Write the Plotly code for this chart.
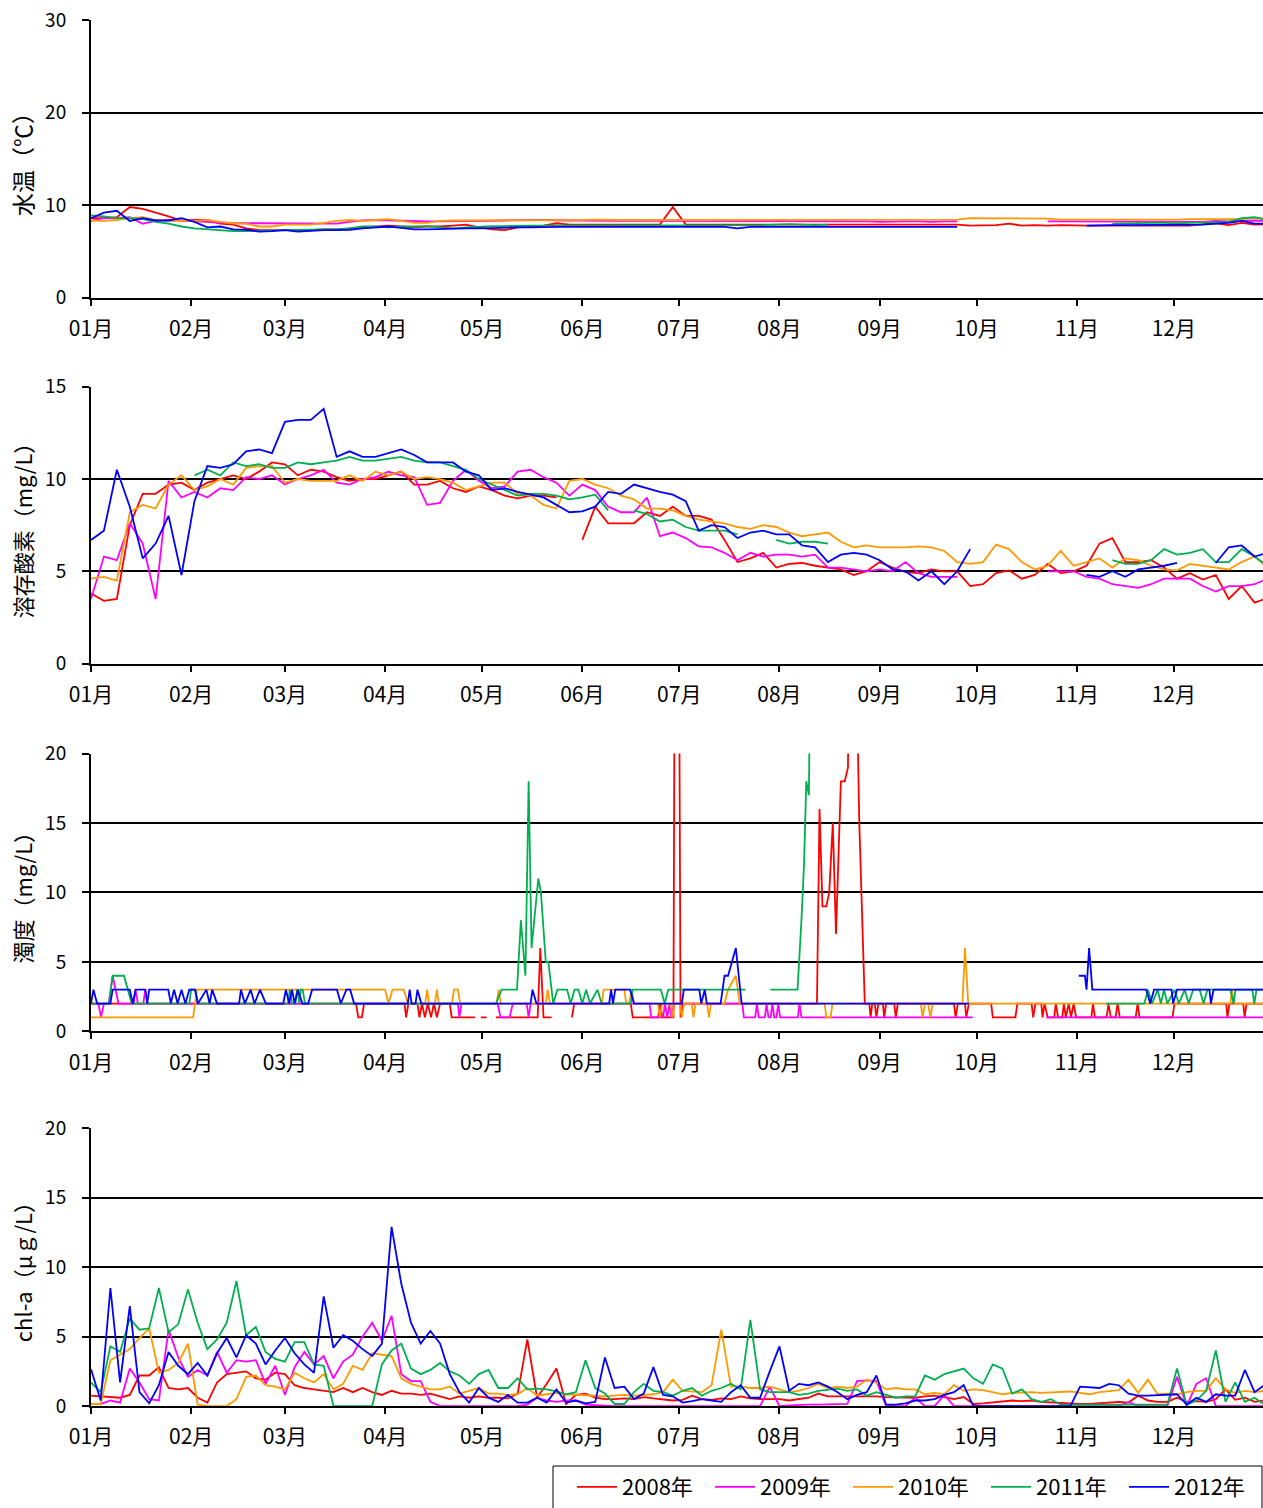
import datetime as dt
import plotly.graph_objects as go

# ---------------- data ----------------
years = ["2008年", "2009年", "2010年", "2011年", "2012年"]
colors = ["#FF0000", "#FF00FF", "#FF9900", "#00B050", "#0000FF"]

# day-of-year grids (day 0 = 1 Jan)
days4 = list(range(0, 365, 4))   # water temperature, DO
days3 = list(range(0, 364, 3))   # chl-a
N = None

temp_2008 = [8.6, 8.6, 8.7, 9.8, 9.6, 9.2, 8.8, 8.3, 8.4, 8.4,
             8.0, 7.9, 7.5, 7.3, 7.3, 7.3, 7.3, 7.3, 7.4, 7.4,
             7.5, 7.6, 7.7, 7.8, 7.7, 7.6, 7.7, 7.7, 7.8, 7.9,
             7.6, 7.4, 7.3, 7.6, 7.7, 7.8, 8.05, 7.9, 7.9, 7.9,
             7.9, 7.9, 7.9, 7.9, 7.9, 9.8, 7.9, 7.9, 7.9, 7.9,
             7.9, 7.9, 7.9, 7.9, 7.9, 7.9, 7.9, 7.95, 7.95, 7.95,
             7.95, 7.95, 7.95, 7.95, 7.95, 7.95, 7.95, 7.9, 7.8, 7.8,
             7.85, 8.0, 7.8, 7.85, 7.8, 7.85, 7.8, 7.8, 7.8, 7.8,
             7.85, 7.8, 7.8, 7.8, 7.8, 7.8, 7.95, 8.05, 7.85, 8.1,
             7.9, 7.95]
temp_2009 = [8.3, 8.6, 8.6, 8.7, 8.0, 8.3, 8.4, 8.35, 8.25, 8.2,
             8.1, 8.05, 8.05, 8.05, 8.05, 8.05, 8.0, 8.05, 8.0, 8.0,
             8.2, 8.35, 8.4, 8.35, 8.3, 8.3, 8.25, 8.25, 8.25, 8.3,
             8.3, 8.3, 8.35, 8.4, 8.4, 8.4, 8.35, 8.35, 8.35, 8.3,
             8.3, 8.3, 8.35, 8.3, 8.3, 8.25, 8.25, 8.3, 8.3, 8.25,
             8.25, 8.3, 8.3, 8.25, 8.3, 8.25, 8.25, 8.3, 8.3, 8.25,
             8.25, 8.2, 8.25, 8.25, 8.25, 8.2, 8.25, 8.25, N, N,
             N, N, N, N, 8.25, 8.25, 8.2, 8.25, 8.25, 8.2,
             8.2, 8.2, 8.2, 8.2, 8.25, 8.25, 8.2, 8.3, 8.25, 8.3,
             8.35, 8.3]
temp_2010 = [8.35, 8.3, 8.4, 8.6, 8.7, 8.4, 8.3, 8.35, 8.3, 8.4,
             8.2, 8.05, 8.0, 7.7, 7.7, 7.9, 7.9, 7.9, 8.1, 8.3,
             8.4, 8.3, 8.4, 8.5, 8.3, 8.1, 8.1, 8.3, 8.35, 8.35,
             8.35, 8.4, 8.35, 8.4, 8.4, 8.4, 8.4, 8.4, 8.4, 8.45,
             8.4, 8.4, 8.4, 8.4, 8.4, 8.4, 8.4, 8.4, 8.4, 8.45,
             8.45, 8.4, 8.45, 8.4, 8.45, 8.45, 8.45, 8.45, 8.45, 8.45,
             8.45, 8.4, 8.45, 8.45, 8.45, 8.45, 8.45, 8.45, 8.6, 8.6,
             8.6, 8.55, 8.6, 8.6, 8.55, 8.45, 8.45, 8.45, 8.45, 8.45,
             8.45, 8.45, 8.4, 8.4, 8.45, 8.5, 8.5, 8.5, 8.45, 8.5,
             8.6, 8.55]
temp_2011 = [8.9, 8.8, 8.6, 8.6, 8.5, 8.2, 8.0, 7.7, 7.5, 7.4,
             7.35, 7.2, 7.2, 7.2, 7.25, 7.3, 7.35, 7.35, 7.4, 7.4,
             7.5, 7.7, 7.7, 7.6, 7.7, 7.7, 7.75, 7.6, 7.5, 7.6,
             7.7, 7.75, 7.75, 7.8, 7.8, 7.8, 7.8, 7.8, 7.8, 7.8,
             7.8, 7.8, 7.8, 7.8, 7.8, 7.8, 7.8, 7.8, 7.8, 7.8,
             7.8, 7.8, 7.85, 7.9, 7.95, 7.9, 7.85, 7.9, N, N,
             N, N, N, N, N, N, N, N, N, N,
             N, N, N, N, N, N, N, N, N, 8.0,
             8.05, 8.1, 8.1, 8.1, 8.05, 8.1, 8.15, 8.2, 8.2, 8.6,
             8.7, 8.4]
temp_2012 = [8.6, 9.2, 9.4, 8.3, 8.6, 8.35, 8.35, 8.6, 8.2, 7.6,
             7.7, 7.4, 7.35, 7.15, 7.2, 7.3, 7.15, 7.25, 7.3, 7.3,
             7.35, 7.5, 7.6, 7.7, 7.55, 7.4, 7.4, 7.45, 7.5, 7.5,
             7.5, 7.55, 7.6, 7.6, 7.6, 7.65, 7.65, 7.65, 7.65, 7.65,
             7.65, 7.65, 7.65, 7.65, 7.65, 7.65, 7.65, 7.65, 7.65, 7.65,
             7.5, 7.65, 7.65, 7.65, 7.65, 7.65, 7.65, 7.65, 7.65, 7.65,
             7.65, 7.65, 7.65, 7.65, 7.65, 7.65, 7.65, 7.65, N, N,
             N, N, N, N, N, N, N, 7.8, 7.85, 7.85,
             7.85, 7.85, 7.85, 7.85, 7.85, 7.85, 7.9, 8.0, 8.1, 8.3,
             8.0, 8.0]

do_2008 = [3.8, 3.4, 3.5, 7.5, 9.2, 9.2, 9.7, 9.8, 9.4, 9.8,
           10.0, 10.2, 10.0, 10.4, 10.9, 10.8, 10.2, 10.5, 10.4, 10.1,
           9.9, 10.0, 10.0, 10.2, 10.4, 9.7, 9.7, 9.9, 9.5, 9.3,
           9.6, 9.4, 9.1, 8.95, 9.1, 9.1, 9.0, N, 6.7, 8.5,
           7.6, 7.6, 7.6, 8.2, 8.0, 8.5, 8.0, 8.0, 7.8, 6.7,
           5.5, 5.7, 6.0, 5.2, 5.4, 5.45, 5.3, 5.2, 5.1, 4.8,
           5.0, 5.5, 5.2, 4.95, 4.9, 5.1, 5.0, 5.0, 4.2, 4.3,
           4.9, 5.05, 4.6, 4.8, 5.4, 4.9, 5.0, 5.3, 6.5, 6.8,
           5.5, 5.5, 5.6, 5.2, 4.6, 4.9, 4.55, 4.8, 3.5, 4.2,
           3.3, 3.55]
do_2009 = [3.5, 5.8, 5.6, 7.6, 6.5, 3.5, 9.9, 9.0, 9.3, 9.0,
           9.5, 9.4, 10.1, 10.0, 10.2, 9.7, 10.0, 10.2, 10.5, 9.8,
           9.7, 10.0, 10.1, 10.4, 10.2, 10.1, 8.6, 8.7, 9.9, 10.5,
           9.9, 9.5, 9.6, 10.4, 10.5, 10.1, 9.8, 9.1, 9.7, 9.4,
           8.5, 8.2, 8.2, 9.0, 6.9, 7.1, 6.8, 6.35, 6.3, 6.0,
           5.6, 6.0, 5.8, 5.9, 5.9, 5.8, 5.9, 5.2, 5.2, 5.1,
           5.0, 5.1, 5.0, 5.5, 4.9, 4.7, 4.7, 4.7, N, N,
           N, N, N, N, 5.0, 5.0, 5.0, 4.7, 4.6, 4.3,
           4.2, 4.1, 4.3, 4.6, 4.6, 4.6, 4.2, 3.9, 4.2, 4.2,
           4.3, 4.6]
do_2010 = [4.6, 4.7, 4.5, 8.2, 8.6, 8.4, 9.7, 10.2, 9.4, 9.6,
           10.0, 9.7, 10.6, 10.7, 10.7, 9.8, 10.0, 9.9, 9.9, 9.9,
           10.2, 9.9, 10.4, 10.2, 10.4, 10.0, 10.1, 10.0, 9.8, 9.4,
           9.6, 9.8, 9.8, 9.2, 9.1, 8.6, 8.4, 9.9, 10.0, 9.7,
           9.5, 9.1, 8.9, 8.4, 8.4, 8.3, 8.0, 7.8, 7.7, 7.6,
           7.4, 7.3, 7.5, 7.4, 7.1, 6.9, 7.0, 7.1, 6.6, 6.3,
           6.4, 6.3, 6.3, 6.3, 6.35, 6.3, 6.1, 5.5, 5.4, 5.5,
           6.45, 6.2, 5.5, 5.1, 5.3, 6.1, 5.3, 5.5, 5.7, 5.2,
           5.7, 5.6, 5.3, 5.1, 5.05, 5.4, 5.3, 5.2, 5.1, 5.5,
           5.8, 5.2]
do_2011 = [N, N, N, N, N, N, N, N, 10.2, 10.5,
           10.2, 10.9, 10.7, 10.8, 10.6, 10.6, 10.9, 10.8, 10.9, 11.0,
           11.2, 11.0, 11.0, 11.1, 11.2, 11.0, 10.9, 10.9, 10.7, 10.5,
           10.0, 9.7, 9.4, 9.1, 9.2, 9.2, 9.1, 8.9, 9.0, 9.15,
           8.3, N, 8.3, 8.1, 7.7, 7.8, 7.4, 7.2, 7.2, 7.2,
           7.0, N, N, 6.7, 6.5, 6.6, 6.6, 6.5, N, N,
           N, N, N, N, N, N, N, N, N, N,
           N, N, N, N, N, N, N, N, N, 5.6,
           5.4, 5.4, 5.6, 6.2, 5.9, 6.0, 6.2, 5.5, 5.5, 6.2,
           5.8, 5.3]
do_2012 = [6.7, 7.2, 10.5, 8.5, 5.7, 6.5, 8.0, 4.8, 8.8, 10.7,
           10.6, 10.8, 11.5, 11.6, 11.4, 13.1, 13.2, 13.2, 13.8, 11.2,
           11.5, 11.2, 11.2, 11.4, 11.6, 11.3, 10.9, 10.9, 10.9, 10.4,
           10.2, 9.4, 9.5, 9.3, 9.15, 9.0, 8.6, 8.2, 8.25, 8.5,
           9.3, 9.2, 9.7, 9.5, 9.3, 9.15, 8.8, 7.2, 7.5, 7.4,
           6.8, 7.1, 7.2, 7.0, 7.0, 6.4, 6.3, 5.5, 5.9, 6.0,
           5.9, 5.6, 5.1, 5.0, 4.5, 5.0, 4.3, 5.0, 6.2, N,
           N, N, N, N, N, N, N, 4.8, 4.7, 5.0,
           4.7, 5.1, 5.2, 5.3, 5.45, N, N, 5.45, 6.3, 6.4,
           5.8, 6.0]

# turbidity: (day, value) readings
turb_2008 = [(0, 2), (82, 2), (82.7, 1), (83.8, 1), (84.5, 2), (97, 2), (97.5, 1), (98.2, 2),
             (101, 2), (101.6, 1), (102.4, 2), (103.3, 1), (104.2, 2), (105.2, 1), (106.1, 2),
             (107, 1), (108, 2), (111, 2), (111.6, 1), (118.8, 1), (118.9, N), (120.6, 1),
             (122.4, 1), (122.5, N), (125.3, 1), (138.2, 1), (139, 6), (140, 1), (142.5, 1),
             (142.6, N), (148.8, 1), (149.5, 2), (167, 2), (167.6, 1), (175.5, 1), (176, 2),
             (176.8, 1), (180.2, 1), (180.6, 30), (181.9, 30), (182.4, 1), (183.2, 2),
             (224.6, 2), (225.4, 16), (226.3, 9), (227.5, 9), (228.4, 10), (229.5, 15),
             (230.5, 7), (232, 18), (233.2, 18), (234.2, 19), (234.6, 30), (236.5, 30),
             (237.7, 15), (239.4, 2), (240.8, 2), (241.2, 1), (241.7, 2), (242.5, 2), (243, 1),
             (243.6, 2), (245, 2), (245.4, 1), (246, 2), (248.5, 2), (249, 1), (249.6, 2),
             (267, 2), (267.5, 1), (268.2, 2), (270.4, 2), (270.8, 1), (271.6, 2), (278.5, 2),
             (279, 1), (286, 1), (286.6, 2), (291, 2), (291.5, 1), (292.2, 2), (294, 2),
             (294.4, 1), (295, 2), (296, 1), (298, 1), (298.5, 2), (299.2, 1), (300.5, 1),
             (301, 2), (301.6, 1), (302.5, 2), (303.2, 1), (304, 2), (304.8, 1), (309.5, 1),
             (310, 2), (310.6, 1), (314.2, 1), (314.8, 2), (315.5, 1), (317, 1), (317.6, 2),
             (318.3, 1), (323.2, 1), (323.8, 2), (324.4, 1), (334.6, 1), (335.2, 2),
             (351.2, 2), (351.6, 1), (352.2, 2), (356.5, 2), (356.9, 1), (357.5, 2), (364, 2)]
turb_2009 = [(0, 2), (2.3, 2), (3.1, 1), (4, 2), (5.5, 2), (6.7, 4), (8.5, 2), (13.2, 2),
             (13.8, 3), (14.5, 2), (16.2, 2), (16.8, 3), (17.5, 2), (113.5, 2), (114, 1),
             (114.6, 2), (125.8, 2), (126.7, 1), (129.5, 1), (130.5, 2), (134.8, 2),
             (135.4, 1), (136, 2), (172.8, 2), (173.3, 1), (177, 1), (177.6, 2), (178.3, 1),
             (179, 2), (179.6, 1), (180.5, 2), (201.5, 2), (202, 1), (205.5, 1), (206, 2),
             (206.6, 1), (208.5, 1), (209, 2), (209.6, 1), (210.3, 1), (210.8, 2), (211.4, 1),
             (212.1, 1), (212.6, 2), (213.2, 1), (218.7, 1), (219.2, 2), (219.8, 1),
             (272.8, 1), (273, N), (295.5, 1), (364, 1)]
turb_2010 = [(0, 1), (31.6, 1), (32.8, 3), (91, 3), (92, 2), (93.3, 3), (96.8, 3), (98, 2),
             (103.4, 2), (104, 3), (104.6, 2), (106.4, 2), (107, 3), (107.6, 2), (111.7, 2),
             (112.3, 3), (113.5, 3), (114.2, 2), (125.5, 2), (126.1, 3), (126.8, 2),
             (140.7, 2), (141.3, 3), (142, 2), (158, 2), (158.6, 3), (165, 3), (165.6, 2),
             (166.5, 2), (167.2, 3), (168, 2), (175.4, 2), (176, 1), (176.7, 2), (179.3, 2),
             (179.9, 1), (180.6, 2), (182.2, 2), (182.8, 1), (183.5, 2), (185.8, 2),
             (186.4, 1), (187, 2), (190.6, 2), (191.2, 1), (191.8, 2), (196, 2), (197.1, 3),
             (199.5, 4), (200.7, 2), (227, 2), (227.5, 1), (228.8, 1), (229.4, 2),
             (256.7, 2), (257.3, 1), (258, 2), (259, 2), (259.7, 1), (260.4, 2), (269.6, 2),
             (270.4, 6), (271.4, 2), (352.5, 2), (353, 3), (353.6, 2), (364, 2)]
turb_2011 = [(0, 2), (5.5, 2), (6.7, 4), (10.2, 4), (12.6, 2), (30.4, 2), (31, 3), (32.2, 3),
             (33, 2), (61, 2), (61.5, 3), (62.2, 2), (63.2, 2), (63.8, 3), (64.5, 2),
             (64.9, 3), (65.5, 3), (66.2, 2), (125.3, 2), (127, 3), (131.8, 3), (133, 8),
             (134.4, 4), (135.4, 18), (136.3, 6), (137.5, 9), (138.4, 11), (139.2, 10),
             (140.7, 5), (141.5, 5), (143, 2), (144.3, 3), (147.3, 3), (148.4, 2),
             (149.6, 3), (150.8, 3), (152, 2), (153.2, 3), (154.4, 2), (156.7, 3), (158, 2),
             (167, 2), (167.6, 3), (176.3, 3), (177.5, 2), (178.6, 3), (202.5, 3),
             (202.6, N), (210.2, 3), (218.6, 3), (219.8, 8), (220.6, 12), (221.3, 18),
             (222.1, 17), (222.7, 30), (222.8, N), (314, 2), (325.9, 2), (327, 3),
             (328.3, 2), (330, 3), (331, 2), (332, 3), (333, 2), (335.3, 3), (336.5, 2),
             (338.4, 3), (339.6, 2), (341, 3), (343, 3), (344.2, 2), (345.4, 3), (352.5, 3),
             (353.5, 2), (354.1, 3), (359.3, 3), (359.9, 2), (360.6, 3), (364, 3)]
turb_2012 = [(0, 2), (0.75, 3), (1.9, 2), (6, 2), (6.7, 3), (12, 3), (12.9, 2), (13.8, 3),
             (16.8, 3), (17.4, 2), (18, 3), (23.9, 3), (24.7, 2), (25.7, 3), (26.8, 2),
             (28, 3), (29.2, 2), (30.4, 3), (32.2, 3), (33.1, 2), (35.7, 3), (36.7, 2),
             (37.5, 3), (39, 2), (45.8, 2), (46.4, 3), (47.6, 2), (49.4, 3), (50.6, 2),
             (52.3, 3), (54.1, 2), (59.5, 2), (60.3, 3), (61.3, 2), (62.2, 3), (63, 2),
             (64, 3), (65.4, 2), (67.2, 2), (68.4, 3), (76.1, 3), (77.3, 2), (79, 3),
             (80.2, 3), (81.4, 2), (98, 2), (98.6, 3), (99.2, 2), (100.4, 2), (101, 3),
             (102.2, 2), (136, 2), (136.6, 3), (137.8, 2), (160.3, 2), (160.9, 3),
             (161.5, 2), (162.2, 3), (166.8, 3), (168, 2), (182.8, 2), (183.4, 3),
             (188.2, 3), (188.8, 2), (189.9, 3), (190.5, 2), (194.8, 2), (196, 4),
             (197.1, 4), (199.5, 6), (201.3, 2), (271.6, 2), (271.7, N), (305.6, 4),
             (307.5, 4), (308, 3), (308.8, 6), (309.8, 3), (326.5, 3), (327.7, 2),
             (328.9, 3), (334.3, 3), (334.8, 2), (336, 3), (346, 3), (346.5, 2), (347.3, 3),
             (364, 3)]

chl_2008 = [0.75, 0.7, 0.65, 0.6, 0.8, 2.2, 2.2, 2.8, 1.3, 1.2,
            1.3, 0.6, 0.25, 1.7, 2.3, 2.4, 2.5, 2.0, 1.9, 2.4,
            2.3, 1.5, 1.3, 1.2, 1.1, 1.0, 1.3, 1.0, 1.3, 1.0,
            0.8, 1.1, 0.9, 0.9, 0.8, 0.9, 0.7, 0.5, 0.7, 0.6,
            0.7, 0.6, 0.6, 0.55, 0.9, 4.8, 0.6, 1.6, 2.7, 0.15,
            0.8, 0.9, 0.6, 0.5, 0.5, 0.55, 0.5, 0.65, 0.55, 0.5,
            0.4, 0.45, 0.75, 0.5, 0.45, 0.55, 0.5, 0.7, 0.55, 0.5,
            0.5, 0.5, 0.4, 0.5, 0.6, 0.9, 0.7, 0.7, 0.7, 0.7,
            0.75, 0.7, 0.65, 0.65, 0.6, 0.6, 0.7, 0.75, 0.65, 0.5,
            0.65, 0.15, 0.2, 0.25, 0.3, 0.4, 0.35, 0.4, 0.3, 0.25,
            0.2, 0.15, 0.15, 0.15, 0.2, 0.25, 0.3, 0.25, 0.75, 0.4,
            0.3, 0.3, 0.6, 0.3, 0.35, 0.3, 0.5, 1.2, 0.45, 0.6,
            0.3, 0.4]
chl_2009 = [0.15, 0.15, 0.4, 0.25, 2.7, 1.7, 0.5, 0.4, 5.5, 3.5,
            2.1, 2.6, 2.2, 3.9, 2.4, 3.3, 3.2, 3.3, 1.6, 2.9,
            0.8, 2.8, 3.9, 3.0, 3.6, 2.0, 3.2, 3.7, 5.0, 6.0,
            4.7, 6.5, 2.3, 1.8, 1.8, 0.3, 0.0, 0.0, 0.0, 0.0,
            0.0, 0.0, 0.0, 0.05, 0.0, 0.1, 0.6, 0.4, 0.3, 0.4,
            0.4, 0.1, 0.05, 0.0, 0.0, 0.0, 0.0, 0.0, 0.0, 0.0,
            0.0, 0.0, 0.0, 0.0, 0.0, 0.0, 0.0, 0.0, 0.0, 0.0,
            1.4, 0.0, 0.05, 0.1, 0.1, 0.1, 0.1, 0.15, 0.15, 1.8,
            1.85, 1.8, 0.0, 0.0, 0.0, 0.6, 0.0, 0.0, 0.8, 0.0,
            0.0, 0.0, 0.0, 0.0, 0.0, 0.0, 0.0, 0.0, 0.0, 0.0,
            0.0, 0.0, 0.0, 0.0, 0.0, 0.0, 0.0, 0.3, 0.0, 0.0,
            0.0, 0.0, 2.1, 0.0, 1.6, 2.0, 0.0, 0.0, 0.0, 0.0,
            0.0, 0.0]
chl_2010 = [0.15, 0.15, 3.3, 3.7, 4.1, 4.9, 5.6, 2.4, 2.6, 3.1,
            4.5, 0.1, 0.0, 0.0, 0.0, 0.5, 2.1, 2.2, 1.5, 1.4,
            1.2, 2.4, 2.0, 1.7, 2.3, 1.2, 1.6, 2.9, 2.6, 3.8,
            3.7, 3.6, 2.0, 1.6, 1.4, 1.2, 1.2, 1.4, 0.9, 1.1,
            1.3, 0.9, 0.9, 0.8, 0.85, 1.3, 0.75, 0.85, 0.95, 0.85,
            0.8, 0.8, 0.75, 0.7, 0.75, 0.8, 0.75, 0.8, 0.85, 1.0,
            1.9, 1.1, 1.05, 1.0, 1.5, 5.5, 1.4, 1.4, 1.3, 1.3,
            1.4, 1.2, 1.0, 1.1, 1.3, 1.6, 1.3, 1.4, 1.3, 1.4,
            1.9, 1.7, 1.2, 1.3, 1.2, 1.2, 0.85, 0.95, 0.85, 1.5,
            1.1, 1.2, 1.15, 1.0, 0.85, 0.95, 1.0, 1.0, 0.95, 1.0,
            1.0, 1.05, 0.95, 0.85, 1.0, 1.1, 1.15, 1.9, 0.95, 1.9,
            0.85, 0.9, 0.85, 1.0, 1.1, 1.1, 2.0, 1.2, 0.95, 1.1,
            1.0, 1.1]
chl_2011 = [1.7, 1.0, 4.3, 3.9, 6.3, 5.5, 5.6, 8.5, 5.3, 5.9,
            8.4, 6.0, 4.1, 4.8, 6.0, 9.0, 5.1, 5.7, 3.9, 3.4,
            3.2, 4.6, 4.6, 3.0, 2.9, 0.0, 0.0, 0.0, 0.0, 0.0,
            3.0, 4.0, 4.5, 2.7, 2.3, 2.6, 3.1, 2.5, 2.2, 1.6,
            2.3, 2.6, 1.3, 1.3, 2.0, 1.2, 1.25, 1.2, 1.05, 0.85,
            1.0, 3.3, 1.3, 0.9, 0.15, 0.15, 1.0, 1.6, 1.1, 1.0,
            0.75, 1.1, 1.3, 0.75, 1.1, 1.3, 1.6, 1.2, 6.2, 1.2,
            1.0, 1.0, 1.0, 0.8, 0.9, 1.1, 1.2, 1.25, 1.1, 1.2,
            0.75, 1.0, 0.8, 0.6, 0.7, 0.7, 2.2, 1.9, 2.3, 2.5,
            2.7, 2.0, 1.6, 3.0, 2.7, 0.9, 1.2, 0.5, 0.3, 0.5,
            0.1, 0.1, 0.1, 0.1, 0.1, 0.1, 0.1, 0.1, 0.1, 0.1,
            0.1, 0.1, 2.7, 0.1, 0.4, 1.1, 4.0, 0.3, 1.7, 0.3,
            0.6, 0.1]
chl_2012 = [2.65, 0.4, 8.5, 1.7, 7.2, 1.0, 0.2, 1.5, 3.9, 2.9,
            2.3, 3.1, 2.2, 3.8, 4.9, 3.5, 5.1, 4.5, 3.0, 4.0,
            4.9, 3.8, 3.0, 2.4, 7.9, 4.2, 5.1, 4.7, 4.1, 3.6,
            4.5, 12.9, 8.8, 6.0, 4.5, 5.4, 4.5, 2.3, 1.0, 0.25,
            1.3, 0.6, 0.3, 0.8, 0.25, 0.25, 0.6, 0.25, 1.2, 0.25,
            0.4, 0.2, 0.3, 3.5, 1.3, 1.4, 0.5, 0.9, 2.8, 0.8,
            0.7, 0.25, 0.35, 0.5, 0.4, 0.3, 1.0, 1.5, 0.6, 0.6,
            2.5, 4.3, 1.1, 1.6, 1.5, 1.7, 1.4, 1.0, 0.5, 0.8,
            1.0, 2.2, 0.1, 0.1, 0.2, 0.4, 0.4, 0.5, 0.8, 1.0,
            1.5, 0.0, 0.0, 0.0, 0.0, 0.0, 0.0, 0.0, 0.0, 0.0,
            0.0, 0.0, 1.4, 1.35, 1.3, 1.6, 1.5, 0.9, 0.75, 0.75,
            0.8, 0.85, 0.85, 0.1, 0.6, 0.3, 0.85, 0.75, 0.75, 2.6,
            1.0, 1.5]

y_titles = ["水温（℃）", "溶存酸素（mg/L）", "濁度（mg/L）", "chl-a（μｇ/L）"]
y_ranges = [(0, 30, 10), (0, 15, 5), (0, 20, 5), (0, 20, 5)]

for arr in (temp_2008, temp_2009, temp_2010, temp_2011, temp_2012,
            do_2008, do_2009, do_2010, do_2011, do_2012):
    assert len(arr) == len(days4), len(arr)
for arr in (chl_2008, chl_2009, chl_2010, chl_2011, chl_2012):
    assert len(arr) == len(days3), len(arr)

# ---------------- figure ----------------
BASE = dt.datetime(2008, 1, 1)


def to_dates(days):
    return [BASE + dt.timedelta(days=float(d)) for d in days]


W, H = 1263, 1508
FONT = "Noto Sans CJK JP"
panels_px = [(20, 298), (387, 664), (754, 1032), (1129, 1407)]
x_left = 91

panels = [
    [(days4, s) for s in (temp_2008, temp_2009, temp_2010, temp_2011, temp_2012)],
    [(days4, s) for s in (do_2008, do_2009, do_2010, do_2011, do_2012)],
    [([p[0] for p in s], [p[1] for p in s]) for s in (turb_2008, turb_2009, turb_2010, turb_2011, turb_2012)],
    [(days3, s) for s in (chl_2008, chl_2009, chl_2010, chl_2011, chl_2012)],
]

fig = go.Figure()
for pi, series in enumerate(panels):
    sfx = "" if pi == 0 else str(pi + 1)
    for si, (dx, vals) in enumerate(series):
        fig.add_trace(go.Scatter(
            x=to_dates(dx), y=vals, mode="lines", name=years[si],
            line=dict(color=colors[si], width=1.8),
            xaxis="x" + sfx, yaxis="y" + sfx,
            legendgroup=years[si], showlegend=(pi == 0),
            connectgaps=False, hoverinfo="skip"))

x_end = BASE + dt.timedelta(days=362.6)
layout = dict(
    width=W, height=H, margin=dict(l=0, r=0, t=0, b=0),
    paper_bgcolor="white", plot_bgcolor="white",
    font=dict(family=FONT, color="black", size=18),
    legend=dict(orientation="h", x=572 / W, y=1 - 1467 / H, xanchor="left", yanchor="top",
                borderwidth=0, font=dict(size=22, family=FONT),
                entrywidth=83, entrywidthmode="pixels", itemwidth=40,
                bgcolor="rgba(0,0,0,0)", tracegroupgap=0),
    shapes=[dict(type="rect", xref="paper", yref="paper",
                 x0=553 / W, x1=1262 / W, y0=1 - 1467 / H, y1=-0.02,
                 line=dict(color="black", width=1), fillcolor="rgba(0,0,0,0)")],
    annotations=[],
)
for pi, (top, bot) in enumerate(panels_px):
    sfx = "" if pi == 0 else str(pi + 1)
    y0, y1, dtk = y_ranges[pi]
    layout["xaxis" + sfx] = dict(
        domain=[x_left / W, 1.0], anchor="y" + sfx, type="date",
        range=[BASE, x_end], dtick="M1", tick0=BASE, tickformat="%m月",
        showline=True, linecolor="black", linewidth=2,
        ticks="outside", ticklen=6, tickwidth=1.5, tickcolor="black",
        showgrid=False, zeroline=False, automargin=False,
        tickfont=dict(size=21, family=FONT), ticklabelstandoff=5)
    layout["yaxis" + sfx] = dict(
        domain=[1 - bot / H, 1 - top / H], anchor="x" + sfx,
        range=[y0, y1], dtick=dtk, tick0=0,
        showline=True, linecolor="black", linewidth=2,
        ticks="outside", ticklen=7, tickwidth=1.5, tickcolor="black",
        showgrid=True, gridcolor="black", gridwidth=1.5,
        zeroline=False, automargin=False,
        tickfont=dict(size=19, family=FONT), ticklabelstandoff=12)
    layout["annotations"].append(dict(
        text=y_titles[pi], xref="paper", yref="paper",
        x=22 / W, y=1 - (top + bot) / 2 / H, showarrow=False, textangle=-90,
        font=dict(size=23 if pi == 0 else 22, family=FONT), xanchor="center", yanchor="middle"))

fig.update_layout(**layout)
fig.write_html(
    "out.html",
    config={"displayModeBar": False},
    post_script="document.body.style.margin='0';document.documentElement.style.overflow='hidden';document.body.style.overflow='hidden';")
